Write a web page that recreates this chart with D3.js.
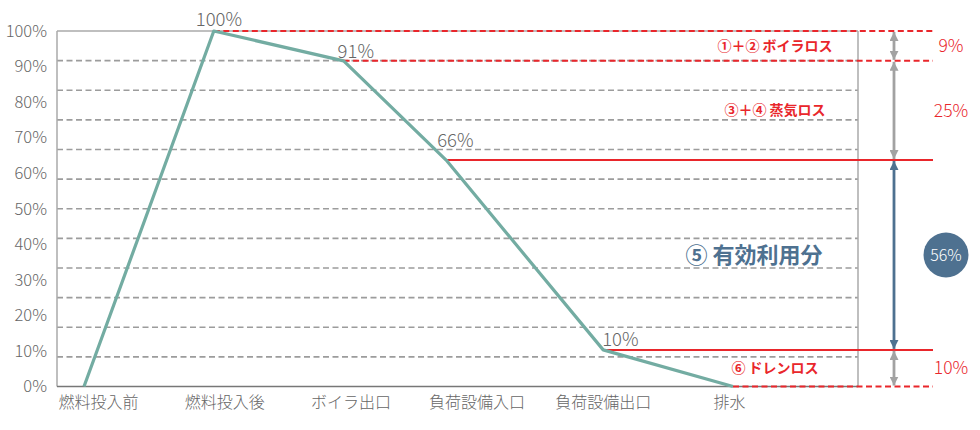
<!DOCTYPE html>
<html>
<head>
<meta charset="utf-8">
<script src="https://cdn.jsdelivr.net/npm/d3@7"></script>
<style>
body{margin:0;background:#fff}
svg{display:block;font-family:"Noto Sans CJK JP","Noto Sans",sans-serif}
</style>
</head>
<body>
<svg id="chart" width="980" height="430"></svg>
<script>
// 工程ごとのエネルギー残量
var stages=["燃料投入前","燃料投入後","ボイラ出口","負荷設備入口","負荷設備出口","排水"];
var stagePos=[0,1,2,2.79,4,5];
var energy=[0,100,91.6,63.7,10.3,0];
var pointLabels=["","100%","91%","66%","10%",""];
var yTicks=[0,10,20,30,40,50,60,70,80,90,100];

// 損失の内訳 (energy の添字で上端・下端)
var bandNames=["①＋② ボイラロス","③＋④ 蒸気ロス","⑤ 有効利用分","⑥ ドレンロス"];
var bandShares=["9%","25%","56%","10%"];
var bandTop=[1,2,3,4];
var bandBottom=[2,3,4,5];
var usefulBand=2;

var svg=d3.select("#chart");
var left=57,right=858,lineEnd=933,arrowX=894;

var xScale=d3.scaleLinear().domain([0,5]).range([84,733]);
var xLabel=d3.scalePoint().domain(stages).range([98,729]);
var yScale=d3.scaleLinear().domain([0,100]).range([386.5,31]);

var red="#e9262b",gray="#a2a2a2",blue="#4e7190",teal="#73aca2";

// グリッド(12分割)
var gridLevels=d3.range(1,12).map(function(i){return i*100/12});
svg.append("g").selectAll("line")
  .data(gridLevels).enter().append("line")
  .attr("x1",left).attr("x2",right)
  .attr("y1",function(d){return yScale(d)}).attr("y2",function(d){return yScale(d)})
  .attr("stroke","#9c9c9c").attr("stroke-width",1.6).attr("stroke-dasharray","6,3.5");

// 枠
svg.append("line").attr("x1",left).attr("x2",right).attr("y1",yScale(100)).attr("y2",yScale(100))
  .attr("stroke","#aaa").attr("stroke-width",1.5);
svg.append("line").attr("x1",left).attr("x2",left).attr("y1",yScale(100)).attr("y2",yScale(0))
  .attr("stroke","#aaa").attr("stroke-width",1.5);
svg.append("line").attr("x1",right).attr("x2",right).attr("y1",yScale(100)).attr("y2",yScale(0))
  .attr("stroke","#aaa").attr("stroke-width",1.5);

// y軸
var yAxis=d3.axisLeft(yScale).tickValues(yTicks).tickSize(0).tickPadding(10)
  .tickFormat(function(d){return d+"%"});
svg.append("g").attr("transform","translate("+left+",0)").call(yAxis)
  .call(function(g){g.select(".domain").remove()})
  .selectAll("text").attr("font-size",16.5).attr("fill","#666").attr("font-weight",300)
  .attr("font-family","'Noto Sans CJK JP','Noto Sans',sans-serif");

// x軸
var xAxis=d3.axisBottom(xLabel).tickSize(0).tickPadding(10);
svg.append("g").attr("transform","translate(0,"+yScale(0)+")").call(xAxis)
  .call(function(g){g.select(".domain").remove()})
  .selectAll("text").attr("font-size",16).attr("fill","#666").attr("font-weight",300)
  .attr("font-family","'Noto Sans CJK JP',sans-serif");
svg.append("line").attr("x1",left).attr("x2",right).attr("y1",yScale(0)).attr("y2",yScale(0))
  .attr("stroke","#777").attr("stroke-width",1.5);

// 各段階の水準線
var levelIdx=[1,2,3,4,5];
svg.append("g").selectAll("line")
  .data(levelIdx).enter().append("line")
  .attr("x1",function(i){return xScale(stagePos[i])}).attr("x2",lineEnd)
  .attr("y1",function(i){return yScale(energy[i])}).attr("y2",function(i){return yScale(energy[i])})
  .attr("stroke",red).attr("stroke-width",2)
  .attr("stroke-dasharray",function(i){
    return (i===bandTop[usefulBand]||i===bandBottom[usefulBand])?null:"6,3.5";
  });

// 折れ線
var linePath=d3.line()
  .x(function(d,i){return xScale(stagePos[i])})
  .y(function(d){return yScale(d)});
svg.append("path").attr("d",linePath(energy))
  .attr("fill","none").attr("stroke",teal).attr("stroke-width",3.2).attr("stroke-linejoin","round");

// 値ラベル(表示値の高さに置く)
var labelDx=[0,-18,-6,-9,-1,0];
svg.append("g").selectAll("text")
  .data(pointLabels).enter().append("text")
  .attr("x",function(d,i){return xScale(stagePos[i])+labelDx[i]})
  .attr("y",function(d){return yScale(parseFloat(d)||0)-5})
  .attr("font-size",18.5).attr("fill","#666").attr("font-weight",300)
  .attr("font-family","'Noto Sans CJK JP','Noto Sans',sans-serif")
  .text(function(d){return d});

// 矢印
var defs=svg.append("defs");
[["ah-gray",gray],["ah-blue",blue]].forEach(function(m){
  defs.append("marker").attr("id",m[0]).attr("viewBox","0 0 10 10")
    .attr("refX",10).attr("refY",5).attr("markerWidth",9).attr("markerHeight",9)
    .attr("markerUnits","userSpaceOnUse").attr("orient","auto-start-reverse")
    .append("path").attr("d","M0,0L10,5L0,10Z").attr("fill",m[1]);
});
var bands=d3.range(bandNames.length);
svg.append("g").selectAll("line")
  .data(bands).enter().append("line")
  .attr("x1",arrowX).attr("x2",arrowX)
  .attr("y1",function(b){return yScale(energy[bandTop[b]])+1})
  .attr("y2",function(b){return yScale(energy[bandBottom[b]])-1})
  .attr("stroke",function(b){return b===usefulBand?blue:gray})
  .attr("stroke-width",2.8)
  .attr("marker-start",function(b){return "url(#"+(b===usefulBand?"ah-blue":"ah-gray")+")"})
  .attr("marker-end",function(b){return "url(#"+(b===usefulBand?"ah-blue":"ah-gray")+")"});

function bandMid(b){return yScale((energy[bandTop[b]]+energy[bandBottom[b]])/2)}

// 区分名
svg.append("g").selectAll("text")
  .data(bands).enter().append("text")
  .attr("x",function(b){return b===usefulBand?754:775})
  .attr("y",bandMid).attr("dy","0.36em")
  .attr("text-anchor","middle")
  .attr("font-size",function(b){return b===usefulBand?22:14})
  .attr("font-weight","bold")
  .attr("fill",function(b){return b===usefulBand?blue:red})
  .text(function(b){return bandNames[b]});

// 割合
svg.append("circle").attr("cx",946).attr("cy",bandMid(usefulBand)).attr("r",22.5).attr("fill",blue);
svg.append("g").selectAll("text")
  .data(bands).enter().append("text")
  .attr("x",function(b){return b===usefulBand?946:951})
  .attr("y",bandMid).attr("dy","0.36em")
  .attr("text-anchor","middle")
  .attr("font-size",function(b){return b===usefulBand?16:17.5})
  .attr("fill",function(b){return b===usefulBand?"#fff":red})
  .attr("font-weight",300)
  .attr("font-family","'Noto Sans CJK JP','Noto Sans',sans-serif")
  .text(function(b){return bandShares[b]});
</script>
</body>
</html>
